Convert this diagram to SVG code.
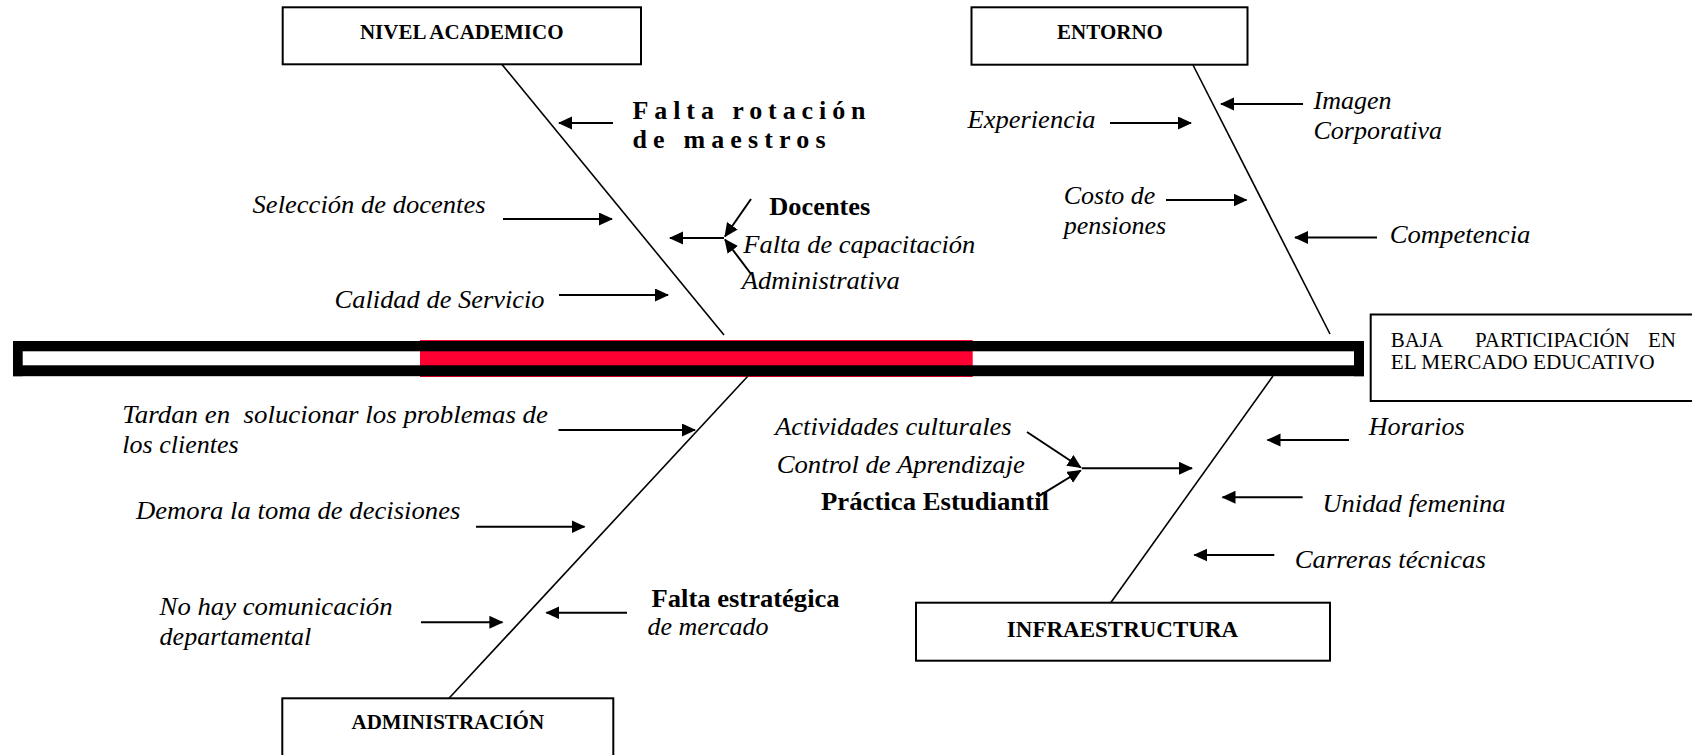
<svg xmlns="http://www.w3.org/2000/svg" width="1692" height="755" viewBox="0 0 1692 755">
<style>
.box{fill:#fff;stroke:#000;stroke-width:2}
.lbl{font-family:"Liberation Serif","Times New Roman",serif;font-weight:bold;font-size:21px;fill:#000;text-anchor:middle}
.it{font-family:"Liberation Serif","Times New Roman",serif;font-style:italic;font-size:26px;fill:#000}
.bd{font-family:"Liberation Serif","Times New Roman",serif;font-weight:bold;font-size:26px;fill:#000}
.rg{font-family:"Liberation Serif","Times New Roman",serif;font-size:21px;fill:#000}
.bone{stroke:#000;stroke-width:1.6;fill:none}
.arr{stroke:#000;stroke-width:2;fill:none;marker-end:url(#ah)}
</style>
<defs>
<marker id="ah" markerUnits="userSpaceOnUse" markerWidth="15" markerHeight="14" refX="13" refY="6.5" orient="auto">
<path d="M0,0 L14,6.5 L0,13 z" fill="#000"/>
</marker>
</defs>
<rect width="1692" height="755" fill="#fff"/>

<g id="spine">
<rect x="420" y="340" width="552.7" height="37" fill="#ff0033"/>
<rect x="13" y="341" width="1351" height="10.3" fill="#000"/>
<rect x="13" y="365.3" width="1351" height="10.9" fill="#000"/>
<rect x="13" y="341" width="9.7" height="35.2" fill="#000"/>
<rect x="1354" y="341" width="10" height="35.2" fill="#000"/>
</g>

<g id="bones">
<line class="bone" x1="502" y1="64.5" x2="724" y2="335"/>
<line class="bone" x1="1193" y1="65" x2="1330" y2="334"/>
<line class="bone" x1="748" y1="376" x2="449" y2="698.3"/>
<line class="bone" x1="1273" y1="376" x2="1110.7" y2="602.7"/>
</g>

<g id="connectors">
<line class="arr" x1="613" y1="123" x2="559" y2="123"/>
<line class="arr" x1="503" y1="219" x2="612" y2="219"/>
<line class="arr" x1="559" y1="295" x2="668" y2="295"/>
<line class="arr" x1="751" y1="199" x2="725" y2="236.5"/>
<line class="arr" x1="751" y1="274" x2="725" y2="239.5"/>
<line class="arr" x1="724" y1="238" x2="670" y2="238"/>
<line class="arr" x1="1110" y1="123" x2="1191" y2="123"/>
<line class="arr" x1="1303" y1="104" x2="1221" y2="104"/>
<line class="arr" x1="1166" y1="200" x2="1246.5" y2="200"/>
<line class="arr" x1="1377" y1="237.5" x2="1295" y2="237.5"/>
<line class="arr" x1="558.5" y1="430" x2="695" y2="430"/>
<line class="arr" x1="476" y1="526.7" x2="584.5" y2="526.7"/>
<line class="arr" x1="421" y1="622.3" x2="502.4" y2="622.3"/>
<line class="arr" x1="627" y1="612.7" x2="546.4" y2="612.7"/>
<line class="arr" x1="1027" y1="432" x2="1080.7" y2="467.5"/>
<line class="arr" x1="1038" y1="496.7" x2="1080.7" y2="470.5"/>
<line class="arr" x1="1081.7" y1="468.3" x2="1192" y2="468.3"/>
<line class="arr" x1="1349" y1="440" x2="1267.5" y2="440"/>
<line class="arr" x1="1302.6" y1="497.3" x2="1222.5" y2="497.3"/>
<line class="arr" x1="1274.3" y1="555" x2="1194.3" y2="555"/>
</g>

<g id="nivel-academico">
<rect class="box" x="282.7" y="7.3" width="358.3" height="57"/>
<text class="lbl" x="461.7" y="39.3">NIVEL ACADEMICO</text>
</g>
<g id="entorno">
<rect class="box" x="971.5" y="7.3" width="276" height="57.4"/>
<text class="lbl" x="1110" y="39.3">ENTORNO</text>
</g>
<g id="administracion">
<rect class="box" x="282.3" y="698.3" width="331" height="80"/>
<text class="lbl" x="447.8" y="729.3">ADMINISTRACIÓN</text>
</g>
<g id="infraestructura">
<rect class="box" x="916" y="602.7" width="414" height="58"/>
<text class="lbl" x="1122.5" y="636.7" style="font-size:23px">INFRAESTRUCTURA</text>
</g>
<g id="efecto">
<rect class="box" x="1370.7" y="314.5" width="400" height="86.5"/>
<text class="rg" y="346.7"><tspan x="1390.7">BAJA</tspan><tspan x="1475">PARTICIPACIÓN</tspan><tspan x="1648">EN</tspan></text>
<text class="rg" x="1390.7" y="369.3" textLength="264" lengthAdjust="spacingAndGlyphs">EL MERCADO EDUCATIVO</text>
</g>

<g id="falta-rotacion">
<text class="bd" x="632.5" y="119" textLength="233" lengthAdjust="spacing">Falta rotación</text>
<text class="bd" x="632.5" y="148" textLength="193" lengthAdjust="spacing">de maestros</text>
</g>
<g id="seleccion">
<text class="it" x="252.6" y="213.3" textLength="233" lengthAdjust="spacingAndGlyphs">Selección de docentes</text>
</g>
<g id="calidad">
<text class="it" x="334.6" y="308" textLength="210" lengthAdjust="spacingAndGlyphs">Calidad de Servicio</text>
</g>
<g id="docentes">
<text class="bd" x="769.3" y="215" textLength="101" lengthAdjust="spacingAndGlyphs">Docentes</text>
<text class="it" x="743.3" y="252.7" textLength="232" lengthAdjust="spacingAndGlyphs">Falta de capacitación</text>
<text class="it" x="741.7" y="289.3" textLength="158" lengthAdjust="spacingAndGlyphs">Administrativa</text>
</g>
<g id="experiencia">
<text class="it" x="967.5" y="128" textLength="128" lengthAdjust="spacingAndGlyphs">Experiencia</text>
</g>
<g id="imagen">
<text class="it" x="1313.5" y="108.5">Imagen</text>
<text class="it" x="1313.5" y="138.5">Corporativa</text>
</g>
<g id="costo">
<text class="it" x="1063.7" y="204">Costo de</text>
<text class="it" x="1063.7" y="234">pensiones</text>
</g>
<g id="competencia">
<text class="it" x="1389.7" y="243.3" textLength="140.7" lengthAdjust="spacingAndGlyphs">Competencia</text>
</g>
<g id="tardan">
<text class="it" x="122.3" y="423.3" textLength="425.7" lengthAdjust="spacingAndGlyphs" xml:space="preserve">Tardan en  solucionar los problemas de</text>
<text class="it" x="122.3" y="453.3">los clientes</text>
</g>
<g id="demora">
<text class="it" x="136" y="519.3" textLength="324.4" lengthAdjust="spacingAndGlyphs">Demora la toma de decisiones</text>
</g>
<g id="comunicacion">
<text class="it" x="159.6" y="615" textLength="233" lengthAdjust="spacingAndGlyphs">No hay comunicación</text>
<text class="it" x="159.6" y="645">departamental</text>
</g>
<g id="falta-estrategica">
<text class="bd" x="651.6" y="606.7" textLength="188" lengthAdjust="spacingAndGlyphs">Falta estratégica</text>
<text class="it" x="647.5" y="635">de mercado</text>
</g>
<g id="actividades">
<text class="it" x="775" y="435" textLength="236.7" lengthAdjust="spacingAndGlyphs">Actividades culturales</text>
<text class="it" x="776.7" y="472.7" textLength="248.3" lengthAdjust="spacingAndGlyphs">Control de Aprendizaje</text>
<text class="bd" x="821" y="510" textLength="228" lengthAdjust="spacingAndGlyphs">Práctica Estudiantil</text>
</g>
<g id="horarios">
<text class="it" x="1368.7" y="435" textLength="96" lengthAdjust="spacingAndGlyphs">Horarios</text>
</g>
<g id="unidad">
<text class="it" x="1322.4" y="511.7" textLength="183.2" lengthAdjust="spacingAndGlyphs">Unidad femenina</text>
</g>
<g id="carreras">
<text class="it" x="1294.8" y="568.3" textLength="191" lengthAdjust="spacingAndGlyphs">Carreras técnicas</text>
</g>
</svg>
